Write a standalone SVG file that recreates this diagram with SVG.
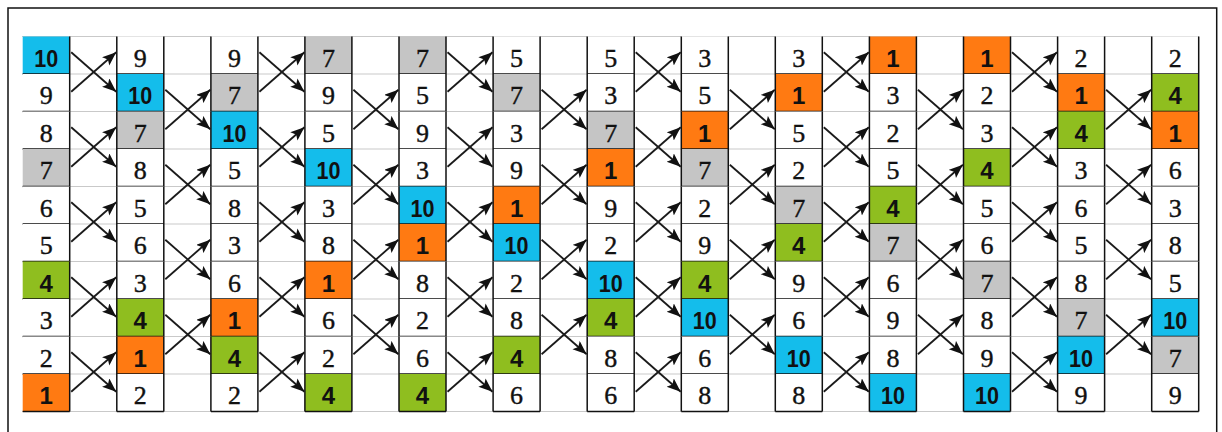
<svg xmlns="http://www.w3.org/2000/svg" width="1222" height="432" viewBox="0 0 1222 432">
<style>
.w{fill:#fff}.cy{fill:#14BDEB}.gy{fill:#C5C5C5}.gr{fill:#8FBE1F}.or{fill:#FF7A12}
.t{fill:#111;font-family:'Liberation Serif','Times New Roman',serif;font-size:26px;stroke:#111;stroke-width:0.4px}
.b{fill:#111;font-family:'Liberation Sans',Arial,sans-serif;font-weight:bold;font-size:24px}
.g line{stroke:#c9c9c9;stroke-width:1}
.c line{stroke:#1a1a1a;stroke-width:1.8;marker-end:url(#ah)}
</style>
<defs>
<path id="f" d="M0,0V37.5M47,0V37.5M0,37.5H47" fill="none" stroke="#111" stroke-width="1.5"/>
<path id="f1" d="M47,0V37.5M0,37.5H47" fill="none" stroke="#111" stroke-width="1.5"/>
<marker id="ah" markerUnits="userSpaceOnUse" markerWidth="16" markerHeight="12" refX="14" refY="5.5" orient="auto"><path d="M0,0L14,5.5L0,11L3,5.5z" fill="#111"/></marker>
</defs>
<rect width="1222" height="432" fill="#fff"/>
<rect x="8" y="8" width="1208.7" height="440" fill="none" stroke="#111" stroke-width="1.5"/>
<g class="g">
<line x1="22" y1="36.5" x2="1199" y2="36.5"/><line x1="22" y1="74" x2="1199" y2="74"/><line x1="22" y1="111.5" x2="1199" y2="111.5"/><line x1="22" y1="149" x2="1199" y2="149"/><line x1="22" y1="186.5" x2="1199" y2="186.5"/><line x1="22" y1="224" x2="1199" y2="224"/><line x1="22" y1="261.5" x2="1199" y2="261.5"/><line x1="22" y1="299" x2="1199" y2="299"/><line x1="22" y1="336.5" x2="1199" y2="336.5"/><line x1="22" y1="374" x2="1199" y2="374"/><line x1="22" y1="411.5" x2="1199" y2="411.5"/>
</g>
<g id="cells" text-anchor="middle">
<g id="n1-1" transform="translate(22.7,36.5)"><rect class="cy" width="47" height="37.5"/><use href="#f1"/><text class="b" x="23.5" y="30" textLength="24" lengthAdjust="spacingAndGlyphs">10</text></g>
<g id="n1-2" transform="translate(22.7,74)"><rect class="w" width="47" height="37.5"/><use href="#f1"/><text class="t" x="23.5" y="30">9</text></g>
<g id="n1-3" transform="translate(22.7,111.5)"><rect class="w" width="47" height="37.5"/><use href="#f1"/><text class="t" x="23.5" y="30">8</text></g>
<g id="n1-4" transform="translate(22.7,149)"><rect class="gy" width="47" height="37.5"/><use href="#f1"/><text class="t" x="23.5" y="30">7</text></g>
<g id="n1-5" transform="translate(22.7,186.5)"><rect class="w" width="47" height="37.5"/><use href="#f1"/><text class="t" x="23.5" y="30">6</text></g>
<g id="n1-6" transform="translate(22.7,224)"><rect class="w" width="47" height="37.5"/><use href="#f1"/><text class="t" x="23.5" y="30">5</text></g>
<g id="n1-7" transform="translate(22.7,261.5)"><rect class="gr" width="47" height="37.5"/><use href="#f1"/><text class="b" x="23.5" y="30">4</text></g>
<g id="n1-8" transform="translate(22.7,299)"><rect class="w" width="47" height="37.5"/><use href="#f1"/><text class="t" x="23.5" y="30">3</text></g>
<g id="n1-9" transform="translate(22.7,336.5)"><rect class="w" width="47" height="37.5"/><use href="#f1"/><text class="t" x="23.5" y="30">2</text></g>
<g id="n1-10" transform="translate(22.7,374)"><rect class="or" width="47" height="37.5"/><use href="#f1"/><text class="b" x="23.5" y="30">1</text></g>

<g id="n2-1" transform="translate(116.8,36.5)"><rect class="w" width="47" height="37.5"/><use href="#f"/><text class="t" x="23.5" y="30">9</text></g>
<g id="n2-2" transform="translate(116.8,74)"><rect class="cy" width="47" height="37.5"/><use href="#f"/><text class="b" x="23.5" y="30" textLength="24" lengthAdjust="spacingAndGlyphs">10</text></g>
<g id="n2-3" transform="translate(116.8,111.5)"><rect class="gy" width="47" height="37.5"/><use href="#f"/><text class="t" x="23.5" y="30">7</text></g>
<g id="n2-4" transform="translate(116.8,149)"><rect class="w" width="47" height="37.5"/><use href="#f"/><text class="t" x="23.5" y="30">8</text></g>
<g id="n2-5" transform="translate(116.8,186.5)"><rect class="w" width="47" height="37.5"/><use href="#f"/><text class="t" x="23.5" y="30">5</text></g>
<g id="n2-6" transform="translate(116.8,224)"><rect class="w" width="47" height="37.5"/><use href="#f"/><text class="t" x="23.5" y="30">6</text></g>
<g id="n2-7" transform="translate(116.8,261.5)"><rect class="w" width="47" height="37.5"/><use href="#f"/><text class="t" x="23.5" y="30">3</text></g>
<g id="n2-8" transform="translate(116.8,299)"><rect class="gr" width="47" height="37.5"/><use href="#f"/><text class="b" x="23.5" y="30">4</text></g>
<g id="n2-9" transform="translate(116.8,336.5)"><rect class="or" width="47" height="37.5"/><use href="#f"/><text class="b" x="23.5" y="30">1</text></g>
<g id="n2-10" transform="translate(116.8,374)"><rect class="w" width="47" height="37.5"/><use href="#f"/><text class="t" x="23.5" y="30">2</text></g>

<g id="n3-1" transform="translate(210.9,36.5)"><rect class="w" width="47" height="37.5"/><use href="#f"/><text class="t" x="23.5" y="30">9</text></g>
<g id="n3-2" transform="translate(210.9,74)"><rect class="gy" width="47" height="37.5"/><use href="#f"/><text class="t" x="23.5" y="30">7</text></g>
<g id="n3-3" transform="translate(210.9,111.5)"><rect class="cy" width="47" height="37.5"/><use href="#f"/><text class="b" x="23.5" y="30" textLength="24" lengthAdjust="spacingAndGlyphs">10</text></g>
<g id="n3-4" transform="translate(210.9,149)"><rect class="w" width="47" height="37.5"/><use href="#f"/><text class="t" x="23.5" y="30">5</text></g>
<g id="n3-5" transform="translate(210.9,186.5)"><rect class="w" width="47" height="37.5"/><use href="#f"/><text class="t" x="23.5" y="30">8</text></g>
<g id="n3-6" transform="translate(210.9,224)"><rect class="w" width="47" height="37.5"/><use href="#f"/><text class="t" x="23.5" y="30">3</text></g>
<g id="n3-7" transform="translate(210.9,261.5)"><rect class="w" width="47" height="37.5"/><use href="#f"/><text class="t" x="23.5" y="30">6</text></g>
<g id="n3-8" transform="translate(210.9,299)"><rect class="or" width="47" height="37.5"/><use href="#f"/><text class="b" x="23.5" y="30">1</text></g>
<g id="n3-9" transform="translate(210.9,336.5)"><rect class="gr" width="47" height="37.5"/><use href="#f"/><text class="b" x="23.5" y="30">4</text></g>
<g id="n3-10" transform="translate(210.9,374)"><rect class="w" width="47" height="37.5"/><use href="#f"/><text class="t" x="23.5" y="30">2</text></g>

<g id="n4-1" transform="translate(304.9,36.5)"><rect class="gy" width="47" height="37.5"/><use href="#f"/><text class="t" x="23.5" y="30">7</text></g>
<g id="n4-2" transform="translate(304.9,74)"><rect class="w" width="47" height="37.5"/><use href="#f"/><text class="t" x="23.5" y="30">9</text></g>
<g id="n4-3" transform="translate(304.9,111.5)"><rect class="w" width="47" height="37.5"/><use href="#f"/><text class="t" x="23.5" y="30">5</text></g>
<g id="n4-4" transform="translate(304.9,149)"><rect class="cy" width="47" height="37.5"/><use href="#f"/><text class="b" x="23.5" y="30" textLength="24" lengthAdjust="spacingAndGlyphs">10</text></g>
<g id="n4-5" transform="translate(304.9,186.5)"><rect class="w" width="47" height="37.5"/><use href="#f"/><text class="t" x="23.5" y="30">3</text></g>
<g id="n4-6" transform="translate(304.9,224)"><rect class="w" width="47" height="37.5"/><use href="#f"/><text class="t" x="23.5" y="30">8</text></g>
<g id="n4-7" transform="translate(304.9,261.5)"><rect class="or" width="47" height="37.5"/><use href="#f"/><text class="b" x="23.5" y="30">1</text></g>
<g id="n4-8" transform="translate(304.9,299)"><rect class="w" width="47" height="37.5"/><use href="#f"/><text class="t" x="23.5" y="30">6</text></g>
<g id="n4-9" transform="translate(304.9,336.5)"><rect class="w" width="47" height="37.5"/><use href="#f"/><text class="t" x="23.5" y="30">2</text></g>
<g id="n4-10" transform="translate(304.9,374)"><rect class="gr" width="47" height="37.5"/><use href="#f"/><text class="b" x="23.5" y="30">4</text></g>

<g id="n5-1" transform="translate(399,36.5)"><rect class="gy" width="47" height="37.5"/><use href="#f"/><text class="t" x="23.5" y="30">7</text></g>
<g id="n5-2" transform="translate(399,74)"><rect class="w" width="47" height="37.5"/><use href="#f"/><text class="t" x="23.5" y="30">5</text></g>
<g id="n5-3" transform="translate(399,111.5)"><rect class="w" width="47" height="37.5"/><use href="#f"/><text class="t" x="23.5" y="30">9</text></g>
<g id="n5-4" transform="translate(399,149)"><rect class="w" width="47" height="37.5"/><use href="#f"/><text class="t" x="23.5" y="30">3</text></g>
<g id="n5-5" transform="translate(399,186.5)"><rect class="cy" width="47" height="37.5"/><use href="#f"/><text class="b" x="23.5" y="30" textLength="24" lengthAdjust="spacingAndGlyphs">10</text></g>
<g id="n5-6" transform="translate(399,224)"><rect class="or" width="47" height="37.5"/><use href="#f"/><text class="b" x="23.5" y="30">1</text></g>
<g id="n5-7" transform="translate(399,261.5)"><rect class="w" width="47" height="37.5"/><use href="#f"/><text class="t" x="23.5" y="30">8</text></g>
<g id="n5-8" transform="translate(399,299)"><rect class="w" width="47" height="37.5"/><use href="#f"/><text class="t" x="23.5" y="30">2</text></g>
<g id="n5-9" transform="translate(399,336.5)"><rect class="w" width="47" height="37.5"/><use href="#f"/><text class="t" x="23.5" y="30">6</text></g>
<g id="n5-10" transform="translate(399,374)"><rect class="gr" width="47" height="37.5"/><use href="#f"/><text class="b" x="23.5" y="30">4</text></g>

<g id="n6-1" transform="translate(493.1,36.5)"><rect class="w" width="47" height="37.5"/><use href="#f"/><text class="t" x="23.5" y="30">5</text></g>
<g id="n6-2" transform="translate(493.1,74)"><rect class="gy" width="47" height="37.5"/><use href="#f"/><text class="t" x="23.5" y="30">7</text></g>
<g id="n6-3" transform="translate(493.1,111.5)"><rect class="w" width="47" height="37.5"/><use href="#f"/><text class="t" x="23.5" y="30">3</text></g>
<g id="n6-4" transform="translate(493.1,149)"><rect class="w" width="47" height="37.5"/><use href="#f"/><text class="t" x="23.5" y="30">9</text></g>
<g id="n6-5" transform="translate(493.1,186.5)"><rect class="or" width="47" height="37.5"/><use href="#f"/><text class="b" x="23.5" y="30">1</text></g>
<g id="n6-6" transform="translate(493.1,224)"><rect class="cy" width="47" height="37.5"/><use href="#f"/><text class="b" x="23.5" y="30" textLength="24" lengthAdjust="spacingAndGlyphs">10</text></g>
<g id="n6-7" transform="translate(493.1,261.5)"><rect class="w" width="47" height="37.5"/><use href="#f"/><text class="t" x="23.5" y="30">2</text></g>
<g id="n6-8" transform="translate(493.1,299)"><rect class="w" width="47" height="37.5"/><use href="#f"/><text class="t" x="23.5" y="30">8</text></g>
<g id="n6-9" transform="translate(493.1,336.5)"><rect class="gr" width="47" height="37.5"/><use href="#f"/><text class="b" x="23.5" y="30">4</text></g>
<g id="n6-10" transform="translate(493.1,374)"><rect class="w" width="47" height="37.5"/><use href="#f"/><text class="t" x="23.5" y="30">6</text></g>

<g id="n7-1" transform="translate(587.2,36.5)"><rect class="w" width="47" height="37.5"/><use href="#f"/><text class="t" x="23.5" y="30">5</text></g>
<g id="n7-2" transform="translate(587.2,74)"><rect class="w" width="47" height="37.5"/><use href="#f"/><text class="t" x="23.5" y="30">3</text></g>
<g id="n7-3" transform="translate(587.2,111.5)"><rect class="gy" width="47" height="37.5"/><use href="#f"/><text class="t" x="23.5" y="30">7</text></g>
<g id="n7-4" transform="translate(587.2,149)"><rect class="or" width="47" height="37.5"/><use href="#f"/><text class="b" x="23.5" y="30">1</text></g>
<g id="n7-5" transform="translate(587.2,186.5)"><rect class="w" width="47" height="37.5"/><use href="#f"/><text class="t" x="23.5" y="30">9</text></g>
<g id="n7-6" transform="translate(587.2,224)"><rect class="w" width="47" height="37.5"/><use href="#f"/><text class="t" x="23.5" y="30">2</text></g>
<g id="n7-7" transform="translate(587.2,261.5)"><rect class="cy" width="47" height="37.5"/><use href="#f"/><text class="b" x="23.5" y="30" textLength="24" lengthAdjust="spacingAndGlyphs">10</text></g>
<g id="n7-8" transform="translate(587.2,299)"><rect class="gr" width="47" height="37.5"/><use href="#f"/><text class="b" x="23.5" y="30">4</text></g>
<g id="n7-9" transform="translate(587.2,336.5)"><rect class="w" width="47" height="37.5"/><use href="#f"/><text class="t" x="23.5" y="30">8</text></g>
<g id="n7-10" transform="translate(587.2,374)"><rect class="w" width="47" height="37.5"/><use href="#f"/><text class="t" x="23.5" y="30">6</text></g>

<g id="n8-1" transform="translate(681.3,36.5)"><rect class="w" width="47" height="37.5"/><use href="#f"/><text class="t" x="23.5" y="30">3</text></g>
<g id="n8-2" transform="translate(681.3,74)"><rect class="w" width="47" height="37.5"/><use href="#f"/><text class="t" x="23.5" y="30">5</text></g>
<g id="n8-3" transform="translate(681.3,111.5)"><rect class="or" width="47" height="37.5"/><use href="#f"/><text class="b" x="23.5" y="30">1</text></g>
<g id="n8-4" transform="translate(681.3,149)"><rect class="gy" width="47" height="37.5"/><use href="#f"/><text class="t" x="23.5" y="30">7</text></g>
<g id="n8-5" transform="translate(681.3,186.5)"><rect class="w" width="47" height="37.5"/><use href="#f"/><text class="t" x="23.5" y="30">2</text></g>
<g id="n8-6" transform="translate(681.3,224)"><rect class="w" width="47" height="37.5"/><use href="#f"/><text class="t" x="23.5" y="30">9</text></g>
<g id="n8-7" transform="translate(681.3,261.5)"><rect class="gr" width="47" height="37.5"/><use href="#f"/><text class="b" x="23.5" y="30">4</text></g>
<g id="n8-8" transform="translate(681.3,299)"><rect class="cy" width="47" height="37.5"/><use href="#f"/><text class="b" x="23.5" y="30" textLength="24" lengthAdjust="spacingAndGlyphs">10</text></g>
<g id="n8-9" transform="translate(681.3,336.5)"><rect class="w" width="47" height="37.5"/><use href="#f"/><text class="t" x="23.5" y="30">6</text></g>
<g id="n8-10" transform="translate(681.3,374)"><rect class="w" width="47" height="37.5"/><use href="#f"/><text class="t" x="23.5" y="30">8</text></g>

<g id="n9-1" transform="translate(775.3,36.5)"><rect class="w" width="47" height="37.5"/><use href="#f"/><text class="t" x="23.5" y="30">3</text></g>
<g id="n9-2" transform="translate(775.3,74)"><rect class="or" width="47" height="37.5"/><use href="#f"/><text class="b" x="23.5" y="30">1</text></g>
<g id="n9-3" transform="translate(775.3,111.5)"><rect class="w" width="47" height="37.5"/><use href="#f"/><text class="t" x="23.5" y="30">5</text></g>
<g id="n9-4" transform="translate(775.3,149)"><rect class="w" width="47" height="37.5"/><use href="#f"/><text class="t" x="23.5" y="30">2</text></g>
<g id="n9-5" transform="translate(775.3,186.5)"><rect class="gy" width="47" height="37.5"/><use href="#f"/><text class="t" x="23.5" y="30">7</text></g>
<g id="n9-6" transform="translate(775.3,224)"><rect class="gr" width="47" height="37.5"/><use href="#f"/><text class="b" x="23.5" y="30">4</text></g>
<g id="n9-7" transform="translate(775.3,261.5)"><rect class="w" width="47" height="37.5"/><use href="#f"/><text class="t" x="23.5" y="30">9</text></g>
<g id="n9-8" transform="translate(775.3,299)"><rect class="w" width="47" height="37.5"/><use href="#f"/><text class="t" x="23.5" y="30">6</text></g>
<g id="n9-9" transform="translate(775.3,336.5)"><rect class="cy" width="47" height="37.5"/><use href="#f"/><text class="b" x="23.5" y="30" textLength="24" lengthAdjust="spacingAndGlyphs">10</text></g>
<g id="n9-10" transform="translate(775.3,374)"><rect class="w" width="47" height="37.5"/><use href="#f"/><text class="t" x="23.5" y="30">8</text></g>

<g id="n10-1" transform="translate(869.4,36.5)"><rect class="or" width="47" height="37.5"/><use href="#f"/><text class="b" x="23.5" y="30">1</text></g>
<g id="n10-2" transform="translate(869.4,74)"><rect class="w" width="47" height="37.5"/><use href="#f"/><text class="t" x="23.5" y="30">3</text></g>
<g id="n10-3" transform="translate(869.4,111.5)"><rect class="w" width="47" height="37.5"/><use href="#f"/><text class="t" x="23.5" y="30">2</text></g>
<g id="n10-4" transform="translate(869.4,149)"><rect class="w" width="47" height="37.5"/><use href="#f"/><text class="t" x="23.5" y="30">5</text></g>
<g id="n10-5" transform="translate(869.4,186.5)"><rect class="gr" width="47" height="37.5"/><use href="#f"/><text class="b" x="23.5" y="30">4</text></g>
<g id="n10-6" transform="translate(869.4,224)"><rect class="gy" width="47" height="37.5"/><use href="#f"/><text class="t" x="23.5" y="30">7</text></g>
<g id="n10-7" transform="translate(869.4,261.5)"><rect class="w" width="47" height="37.5"/><use href="#f"/><text class="t" x="23.5" y="30">6</text></g>
<g id="n10-8" transform="translate(869.4,299)"><rect class="w" width="47" height="37.5"/><use href="#f"/><text class="t" x="23.5" y="30">9</text></g>
<g id="n10-9" transform="translate(869.4,336.5)"><rect class="w" width="47" height="37.5"/><use href="#f"/><text class="t" x="23.5" y="30">8</text></g>
<g id="n10-10" transform="translate(869.4,374)"><rect class="cy" width="47" height="37.5"/><use href="#f"/><text class="b" x="23.5" y="30" textLength="24" lengthAdjust="spacingAndGlyphs">10</text></g>

<g id="n11-1" transform="translate(963.5,36.5)"><rect class="or" width="47" height="37.5"/><use href="#f"/><text class="b" x="23.5" y="30">1</text></g>
<g id="n11-2" transform="translate(963.5,74)"><rect class="w" width="47" height="37.5"/><use href="#f"/><text class="t" x="23.5" y="30">2</text></g>
<g id="n11-3" transform="translate(963.5,111.5)"><rect class="w" width="47" height="37.5"/><use href="#f"/><text class="t" x="23.5" y="30">3</text></g>
<g id="n11-4" transform="translate(963.5,149)"><rect class="gr" width="47" height="37.5"/><use href="#f"/><text class="b" x="23.5" y="30">4</text></g>
<g id="n11-5" transform="translate(963.5,186.5)"><rect class="w" width="47" height="37.5"/><use href="#f"/><text class="t" x="23.5" y="30">5</text></g>
<g id="n11-6" transform="translate(963.5,224)"><rect class="w" width="47" height="37.5"/><use href="#f"/><text class="t" x="23.5" y="30">6</text></g>
<g id="n11-7" transform="translate(963.5,261.5)"><rect class="gy" width="47" height="37.5"/><use href="#f"/><text class="t" x="23.5" y="30">7</text></g>
<g id="n11-8" transform="translate(963.5,299)"><rect class="w" width="47" height="37.5"/><use href="#f"/><text class="t" x="23.5" y="30">8</text></g>
<g id="n11-9" transform="translate(963.5,336.5)"><rect class="w" width="47" height="37.5"/><use href="#f"/><text class="t" x="23.5" y="30">9</text></g>
<g id="n11-10" transform="translate(963.5,374)"><rect class="cy" width="47" height="37.5"/><use href="#f"/><text class="b" x="23.5" y="30" textLength="24" lengthAdjust="spacingAndGlyphs">10</text></g>

<g id="n12-1" transform="translate(1057.6,36.5)"><rect class="w" width="47" height="37.5"/><use href="#f"/><text class="t" x="23.5" y="30">2</text></g>
<g id="n12-2" transform="translate(1057.6,74)"><rect class="or" width="47" height="37.5"/><use href="#f"/><text class="b" x="23.5" y="30">1</text></g>
<g id="n12-3" transform="translate(1057.6,111.5)"><rect class="gr" width="47" height="37.5"/><use href="#f"/><text class="b" x="23.5" y="30">4</text></g>
<g id="n12-4" transform="translate(1057.6,149)"><rect class="w" width="47" height="37.5"/><use href="#f"/><text class="t" x="23.5" y="30">3</text></g>
<g id="n12-5" transform="translate(1057.6,186.5)"><rect class="w" width="47" height="37.5"/><use href="#f"/><text class="t" x="23.5" y="30">6</text></g>
<g id="n12-6" transform="translate(1057.6,224)"><rect class="w" width="47" height="37.5"/><use href="#f"/><text class="t" x="23.5" y="30">5</text></g>
<g id="n12-7" transform="translate(1057.6,261.5)"><rect class="w" width="47" height="37.5"/><use href="#f"/><text class="t" x="23.5" y="30">8</text></g>
<g id="n12-8" transform="translate(1057.6,299)"><rect class="gy" width="47" height="37.5"/><use href="#f"/><text class="t" x="23.5" y="30">7</text></g>
<g id="n12-9" transform="translate(1057.6,336.5)"><rect class="cy" width="47" height="37.5"/><use href="#f"/><text class="b" x="23.5" y="30" textLength="24" lengthAdjust="spacingAndGlyphs">10</text></g>
<g id="n12-10" transform="translate(1057.6,374)"><rect class="w" width="47" height="37.5"/><use href="#f"/><text class="t" x="23.5" y="30">9</text></g>

<g id="n13-1" transform="translate(1151.7,36.5)"><rect class="w" width="47" height="37.5"/><use href="#f"/><text class="t" x="23.5" y="30">2</text></g>
<g id="n13-2" transform="translate(1151.7,74)"><rect class="gr" width="47" height="37.5"/><use href="#f"/><text class="b" x="23.5" y="30">4</text></g>
<g id="n13-3" transform="translate(1151.7,111.5)"><rect class="or" width="47" height="37.5"/><use href="#f"/><text class="b" x="23.5" y="30">1</text></g>
<g id="n13-4" transform="translate(1151.7,149)"><rect class="w" width="47" height="37.5"/><use href="#f"/><text class="t" x="23.5" y="30">6</text></g>
<g id="n13-5" transform="translate(1151.7,186.5)"><rect class="w" width="47" height="37.5"/><use href="#f"/><text class="t" x="23.5" y="30">3</text></g>
<g id="n13-6" transform="translate(1151.7,224)"><rect class="w" width="47" height="37.5"/><use href="#f"/><text class="t" x="23.5" y="30">8</text></g>
<g id="n13-7" transform="translate(1151.7,261.5)"><rect class="w" width="47" height="37.5"/><use href="#f"/><text class="t" x="23.5" y="30">5</text></g>
<g id="n13-8" transform="translate(1151.7,299)"><rect class="cy" width="47" height="37.5"/><use href="#f"/><text class="b" x="23.5" y="30" textLength="24" lengthAdjust="spacingAndGlyphs">10</text></g>
<g id="n13-9" transform="translate(1151.7,336.5)"><rect class="gy" width="47" height="37.5"/><use href="#f"/><text class="t" x="23.5" y="30">7</text></g>
<g id="n13-10" transform="translate(1151.7,374)"><rect class="w" width="47" height="37.5"/><use href="#f"/><text class="t" x="23.5" y="30">9</text></g>
</g>
<g id="connectors" class="c">
<g transform="translate(71.2,0)"><line x1="0" y1="52.25" x2="45" y2="91.75"/><line x1="0" y1="91.75" x2="45" y2="52.25"/><line x1="0" y1="127.25" x2="45" y2="166.75"/><line x1="0" y1="166.75" x2="45" y2="127.25"/><line x1="0" y1="202.25" x2="45" y2="241.75"/><line x1="0" y1="241.75" x2="45" y2="202.25"/><line x1="0" y1="277.25" x2="45" y2="316.75"/><line x1="0" y1="316.75" x2="45" y2="277.25"/><line x1="0" y1="352.25" x2="45" y2="391.75"/><line x1="0" y1="391.75" x2="45" y2="352.25"/></g>
<g transform="translate(165.3,0)"><line x1="0" y1="89.75" x2="45" y2="129.25"/><line x1="0" y1="129.25" x2="45" y2="89.75"/><line x1="0" y1="164.75" x2="45" y2="204.25"/><line x1="0" y1="204.25" x2="45" y2="164.75"/><line x1="0" y1="239.75" x2="45" y2="279.25"/><line x1="0" y1="279.25" x2="45" y2="239.75"/><line x1="0" y1="314.75" x2="45" y2="354.25"/><line x1="0" y1="354.25" x2="45" y2="314.75"/></g>
<g transform="translate(259.4,0)"><line x1="0" y1="52.25" x2="45" y2="91.75"/><line x1="0" y1="91.75" x2="45" y2="52.25"/><line x1="0" y1="127.25" x2="45" y2="166.75"/><line x1="0" y1="166.75" x2="45" y2="127.25"/><line x1="0" y1="202.25" x2="45" y2="241.75"/><line x1="0" y1="241.75" x2="45" y2="202.25"/><line x1="0" y1="277.25" x2="45" y2="316.75"/><line x1="0" y1="316.75" x2="45" y2="277.25"/><line x1="0" y1="352.25" x2="45" y2="391.75"/><line x1="0" y1="391.75" x2="45" y2="352.25"/></g>
<g transform="translate(353.4,0)"><line x1="0" y1="89.75" x2="45" y2="129.25"/><line x1="0" y1="129.25" x2="45" y2="89.75"/><line x1="0" y1="164.75" x2="45" y2="204.25"/><line x1="0" y1="204.25" x2="45" y2="164.75"/><line x1="0" y1="239.75" x2="45" y2="279.25"/><line x1="0" y1="279.25" x2="45" y2="239.75"/><line x1="0" y1="314.75" x2="45" y2="354.25"/><line x1="0" y1="354.25" x2="45" y2="314.75"/></g>
<g transform="translate(447.5,0)"><line x1="0" y1="52.25" x2="45" y2="91.75"/><line x1="0" y1="91.75" x2="45" y2="52.25"/><line x1="0" y1="127.25" x2="45" y2="166.75"/><line x1="0" y1="166.75" x2="45" y2="127.25"/><line x1="0" y1="202.25" x2="45" y2="241.75"/><line x1="0" y1="241.75" x2="45" y2="202.25"/><line x1="0" y1="277.25" x2="45" y2="316.75"/><line x1="0" y1="316.75" x2="45" y2="277.25"/><line x1="0" y1="352.25" x2="45" y2="391.75"/><line x1="0" y1="391.75" x2="45" y2="352.25"/></g>
<g transform="translate(541.6,0)"><line x1="0" y1="89.75" x2="45" y2="129.25"/><line x1="0" y1="129.25" x2="45" y2="89.75"/><line x1="0" y1="164.75" x2="45" y2="204.25"/><line x1="0" y1="204.25" x2="45" y2="164.75"/><line x1="0" y1="239.75" x2="45" y2="279.25"/><line x1="0" y1="279.25" x2="45" y2="239.75"/><line x1="0" y1="314.75" x2="45" y2="354.25"/><line x1="0" y1="354.25" x2="45" y2="314.75"/></g>
<g transform="translate(635.7,0)"><line x1="0" y1="52.25" x2="45" y2="91.75"/><line x1="0" y1="91.75" x2="45" y2="52.25"/><line x1="0" y1="127.25" x2="45" y2="166.75"/><line x1="0" y1="166.75" x2="45" y2="127.25"/><line x1="0" y1="202.25" x2="45" y2="241.75"/><line x1="0" y1="241.75" x2="45" y2="202.25"/><line x1="0" y1="277.25" x2="45" y2="316.75"/><line x1="0" y1="316.75" x2="45" y2="277.25"/><line x1="0" y1="352.25" x2="45" y2="391.75"/><line x1="0" y1="391.75" x2="45" y2="352.25"/></g>
<g transform="translate(729.8,0)"><line x1="0" y1="89.75" x2="45" y2="129.25"/><line x1="0" y1="129.25" x2="45" y2="89.75"/><line x1="0" y1="164.75" x2="45" y2="204.25"/><line x1="0" y1="204.25" x2="45" y2="164.75"/><line x1="0" y1="239.75" x2="45" y2="279.25"/><line x1="0" y1="279.25" x2="45" y2="239.75"/><line x1="0" y1="314.75" x2="45" y2="354.25"/><line x1="0" y1="354.25" x2="45" y2="314.75"/></g>
<g transform="translate(823.8,0)"><line x1="0" y1="52.25" x2="45" y2="91.75"/><line x1="0" y1="91.75" x2="45" y2="52.25"/><line x1="0" y1="127.25" x2="45" y2="166.75"/><line x1="0" y1="166.75" x2="45" y2="127.25"/><line x1="0" y1="202.25" x2="45" y2="241.75"/><line x1="0" y1="241.75" x2="45" y2="202.25"/><line x1="0" y1="277.25" x2="45" y2="316.75"/><line x1="0" y1="316.75" x2="45" y2="277.25"/><line x1="0" y1="352.25" x2="45" y2="391.75"/><line x1="0" y1="391.75" x2="45" y2="352.25"/></g>
<g transform="translate(917.9,0)"><line x1="0" y1="89.75" x2="45" y2="129.25"/><line x1="0" y1="129.25" x2="45" y2="89.75"/><line x1="0" y1="164.75" x2="45" y2="204.25"/><line x1="0" y1="204.25" x2="45" y2="164.75"/><line x1="0" y1="239.75" x2="45" y2="279.25"/><line x1="0" y1="279.25" x2="45" y2="239.75"/><line x1="0" y1="314.75" x2="45" y2="354.25"/><line x1="0" y1="354.25" x2="45" y2="314.75"/></g>
<g transform="translate(1012,0)"><line x1="0" y1="52.25" x2="45" y2="91.75"/><line x1="0" y1="91.75" x2="45" y2="52.25"/><line x1="0" y1="127.25" x2="45" y2="166.75"/><line x1="0" y1="166.75" x2="45" y2="127.25"/><line x1="0" y1="202.25" x2="45" y2="241.75"/><line x1="0" y1="241.75" x2="45" y2="202.25"/><line x1="0" y1="277.25" x2="45" y2="316.75"/><line x1="0" y1="316.75" x2="45" y2="277.25"/><line x1="0" y1="352.25" x2="45" y2="391.75"/><line x1="0" y1="391.75" x2="45" y2="352.25"/></g>
<g transform="translate(1106.1,0)"><line x1="0" y1="89.75" x2="45" y2="129.25"/><line x1="0" y1="129.25" x2="45" y2="89.75"/><line x1="0" y1="164.75" x2="45" y2="204.25"/><line x1="0" y1="204.25" x2="45" y2="164.75"/><line x1="0" y1="239.75" x2="45" y2="279.25"/><line x1="0" y1="279.25" x2="45" y2="239.75"/><line x1="0" y1="314.75" x2="45" y2="354.25"/><line x1="0" y1="354.25" x2="45" y2="314.75"/></g>
</g>
</svg>
